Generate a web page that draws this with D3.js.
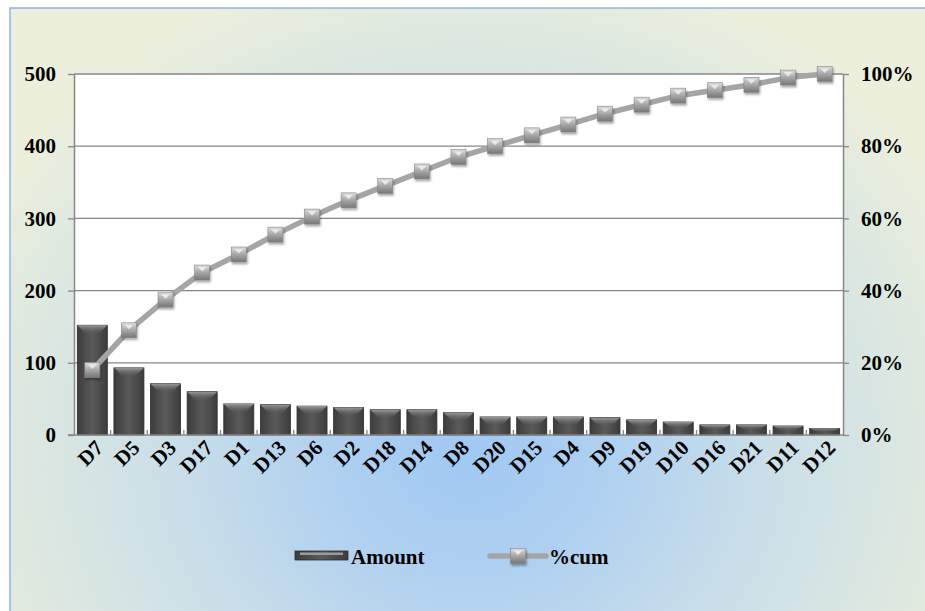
<!DOCTYPE html>
<html>
<head>
<meta charset="utf-8">
<script src="https://cdn.jsdelivr.net/npm/d3@7"></script>
<style>
  body { margin: 0; background: #fff; }
  text { font-family: "Liberation Serif", "Times New Roman", serif; font-weight: bold; }
</style>
</head>
<body>
<div id="chart"></div>
<script>
// data
var categories = ["D7","D5","D3","D17","D1","D13","D6","D2","D18","D14","D8","D20","D15","D4","D9","D19","D10","D16","D21","D11","D12"];
var amounts = [152, 93, 71, 60, 43, 42, 40, 38, 35, 35, 31, 25, 25, 25, 24, 21, 18, 14, 14, 12.5, 9];
var cumPct = [18, 29, 37.5, 45, 50, 55.5, 60.5, 65, 69, 73, 77, 80, 83, 86, 89, 91.5, 94, 95.5, 97, 99, 100];
var leftTicks = [0, 100, 200, 300, 400, 500];
var rightTicks = [0, 20, 40, 60, 80, 100];

var svgWidth = 925, svgHeight = 611;
var plot = { left: 74, right: 843, top: 74, bottom: 435 };
var fontSize = 21;

var svg = d3.select("#chart").append("svg")
  .attr("width", svgWidth)
  .attr("height", svgHeight);

var defs = svg.append("defs");

var bg = defs.append("radialGradient")
  .attr("id", "bg")
  .attr("gradientUnits", "userSpaceOnUse")
  .attr("cx", 470).attr("cy", 450).attr("r", 500)
  .attr("gradientTransform", "translate(470,450) scale(1.1,1) translate(-470,-450)");
bg.append("stop").attr("offset", "0%").attr("stop-color", "#a0c8f3");
bg.append("stop").attr("offset", "25%").attr("stop-color", "#afd0f0");
bg.append("stop").attr("offset", "55%").attr("stop-color", "#cbdfe8");
bg.append("stop").attr("offset", "82%").attr("stop-color", "#dde8e0");
bg.append("stop").attr("offset", "100%").attr("stop-color", "#ecefdc");

var barGrad = defs.append("linearGradient").attr("id", "barGrad")
  .attr("x1", "0").attr("x2", "1").attr("y1", "0").attr("y2", "0");
barGrad.append("stop").attr("offset", "0%").attr("stop-color", "#3c3c3c");
barGrad.append("stop").attr("offset", "50%").attr("stop-color", "#5a5a5a");
barGrad.append("stop").attr("offset", "100%").attr("stop-color", "#3c3c3c");

var topGrad = defs.append("linearGradient").attr("id", "topGrad")
  .attr("x1", "0").attr("x2", "0").attr("y1", "0").attr("y2", "1");
topGrad.append("stop").attr("offset", "0%").attr("stop-color", "#9a9a9a");
topGrad.append("stop").attr("offset", "100%").attr("stop-color", "#5a5a5a").attr("stop-opacity", 0);

var mkGrad = defs.append("linearGradient").attr("id", "mkGrad")
  .attr("x1", "0").attr("x2", "0").attr("y1", "0").attr("y2", "1");
mkGrad.append("stop").attr("offset", "0%").attr("stop-color", "#dcdcdc");
mkGrad.append("stop").attr("offset", "45%").attr("stop-color", "#ababab");
mkGrad.append("stop").attr("offset", "100%").attr("stop-color", "#767676");

var shadow = defs.append("filter").attr("id", "shadow")
  .attr("x", "-50%").attr("y", "-50%").attr("width", "200%").attr("height", "200%");
shadow.append("feDropShadow").attr("dx", 1).attr("dy", 2).attr("stdDeviation", 1.2)
  .attr("flood-color", "#000").attr("flood-opacity", 0.35);

// chart area
svg.append("rect")
  .attr("x", 10).attr("y", 8)
  .attr("width", svgWidth).attr("height", svgHeight)
  .attr("fill", "url(#bg)")
  .attr("stroke", "#8eb4e3").attr("stroke-width", 1.5);

svg.append("rect")
  .attr("x", plot.left).attr("y", plot.top)
  .attr("width", plot.right - plot.left).attr("height", plot.bottom - plot.top)
  .attr("fill", "#fff");

var xScale = d3.scaleBand()
  .domain(categories)
  .range([plot.left, plot.right])
  .paddingInner(0.18).paddingOuter(0.09);

var yScale = d3.scaleLinear().domain([0, 500]).range([plot.bottom, plot.top]);
var y2Scale = d3.scaleLinear().domain([0, 100]).range([plot.bottom, plot.top]);

// gridlines
svg.append("g")
  .selectAll("line")
  .data(leftTicks.slice(1))
  .enter().append("line")
  .attr("x1", plot.left).attr("x2", plot.right)
  .attr("y1", d => yScale(d)).attr("y2", d => yScale(d))
  .attr("stroke", "#878787").attr("stroke-width", 1.3);

// left axis
var leftAxis = svg.append("g")
  .attr("transform", `translate(${plot.left},0)`)
  .call(d3.axisLeft(yScale).tickValues(leftTicks).tickSize(6).tickPadding(12).tickSizeOuter(0));
// right axis
var rightAxis = svg.append("g")
  .attr("transform", `translate(${plot.right},0)`)
  .call(d3.axisRight(y2Scale).tickValues(rightTicks).tickSize(6).tickPadding(12).tickSizeOuter(0)
    .tickFormat(d => d + "%"));

[leftAxis, rightAxis].forEach(function(a) {
  a.attr("font-size", fontSize).attr("font-family", null);
  a.select(".domain").attr("stroke", "#878787").attr("stroke-width", 1.5);
  a.selectAll(".tick line").attr("stroke", "#878787").attr("stroke-width", 1.3);
  a.selectAll(".tick text").attr("fill", "#000");
});

// bars
var bars = svg.append("g").selectAll("g.bar")
  .data(categories)
  .enter().append("g").attr("class", "bar");

bars.append("rect")
  .attr("x", d => xScale(d))
  .attr("y", (d, i) => yScale(amounts[i]))
  .attr("width", xScale.bandwidth())
  .attr("height", (d, i) => plot.bottom - yScale(amounts[i]))
  .attr("fill", "url(#barGrad)")
  .attr("stroke", "#2e2e2e").attr("stroke-width", 0.8);

bars.append("path")
  .attr("d", function(d, i) {
    var x0 = xScale(d), w = xScale.bandwidth(), y0 = yScale(amounts[i]);
    var h = Math.min(9, (plot.bottom - y0) / 2);
    return "M" + x0 + "," + y0 + "h" + w + "l" + (-w * 0.3) + "," + h + "h" + (-w * 0.4) + "z";
  })
  .attr("fill", "url(#topGrad)");

// x baseline + ticks
svg.append("line")
  .attr("x1", plot.left - 6).attr("x2", plot.right)
  .attr("y1", plot.bottom).attr("y2", plot.bottom)
  .attr("stroke", "#878787").attr("stroke-width", 1.5);

var step = xScale.step();
svg.append("g").selectAll("line")
  .data(categories.slice(1))
  .enter().append("line")
  .attr("x1", d => xScale(d) - step * 0.09).attr("x2", d => xScale(d) - step * 0.09)
  .attr("y1", plot.bottom - 5).attr("y2", plot.bottom)
  .attr("stroke", "#878787").attr("stroke-width", 1.3);

// x labels
svg.append("g").selectAll("text")
  .data(categories)
  .enter().append("text")
  .attr("transform", d => `translate(${xScale(d) + xScale.bandwidth() / 2 + 12},${plot.bottom + 14}) rotate(-45)`)
  .attr("text-anchor", "end")
  .attr("font-size", fontSize)
  .text(d => d);

// cumulative line
var line = d3.line()
  .x((d, i) => xScale(categories[i]) + xScale.bandwidth() / 2)
  .y(d => y2Scale(d));

svg.append("path")
  .datum(cumPct)
  .attr("d", line)
  .attr("fill", "none")
  .attr("stroke", "#a5a5a5")
  .attr("stroke-width", 5.5)
  .attr("stroke-linejoin", "round");

function marker(g, cx, cy) {
  g.append("rect")
    .attr("x", cx - 7.5).attr("y", cy - 7.5)
    .attr("width", 15).attr("height", 15)
    .attr("fill", "url(#mkGrad)")
    .attr("stroke", "#858585").attr("stroke-width", 0.6)
    .attr("filter", "url(#shadow)");
  g.append("path")
    .attr("d", `M${cx - 4.5},${cy - 5.5}h9l-4.5,4.5z`)
    .attr("fill", "#f4f4f4").attr("opacity", 0.8);
}

var mk = svg.append("g");
cumPct.forEach(function(v, i) {
  marker(mk, xScale(categories[i]) + xScale.bandwidth() / 2, y2Scale(v));
});

// legend
var legend = svg.append("g");
legend.append("rect")
  .attr("x", 295).attr("y", 551).attr("width", 53).attr("height", 9)
  .attr("fill", "url(#barGrad)").attr("stroke", "#2e2e2e").attr("stroke-width", 0.8);
legend.append("rect")
  .attr("x", 300).attr("y", 552.5).attr("width", 43).attr("height", 2.5)
  .attr("fill", "#9a9a9a");
legend.append("text").attr("x", 351).attr("y", 564).attr("font-size", fontSize).text("Amount");

legend.append("line")
  .attr("x1", 490).attr("x2", 546).attr("y1", 556).attr("y2", 556)
  .attr("stroke", "#a5a5a5").attr("stroke-width", 5.5).attr("stroke-linecap", "round");
marker(legend, 518, 556);
legend.append("text").attr("x", 549).attr("y", 564).attr("font-size", fontSize).text("%cum");
</script>
</body>
</html>
